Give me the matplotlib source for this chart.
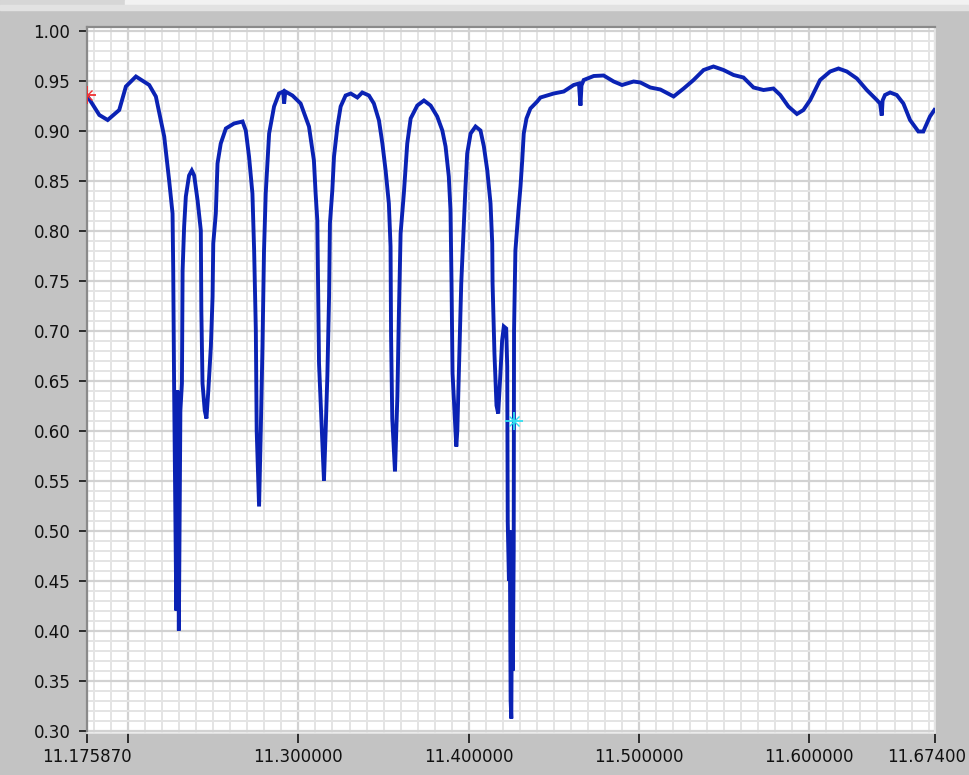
import matplotlib
matplotlib.use("Agg")
import matplotlib.pyplot as plt
from matplotlib.patches import Rectangle
from matplotlib.transforms import ScaledTranslation
from matplotlib.ticker import MultipleLocator, FixedLocator, FixedFormatter, FormatStrFormatter

# spectrum trace (x in um, y = transmission)
wl = [11.17587, 11.1831, 11.1880, 11.1948, 11.1987, 11.2046, 11.2124, 11.2163,
      11.2212, 11.2241, 11.2261, 11.2265, 11.2270, 11.2283, 11.2289, 11.2298,
      11.2307, 11.2316, 11.2320, 11.2329, 11.2339, 11.2358, 11.2374, 11.2388,
      11.2408, 11.2427, 11.2430, 11.2437, 11.2450, 11.2460, 11.2471, 11.2486,
      11.2496, 11.2500, 11.2515, 11.2525, 11.2544, 11.2574, 11.2622, 11.2672,
      11.2691, 11.2710, 11.2730, 11.2740, 11.2750, 11.2755, 11.2769, 11.2779,
      11.2789, 11.2798, 11.2808, 11.2828, 11.2857, 11.2886, 11.2911, 11.2916,
      11.2923, 11.2965, 11.3013, 11.3062, 11.3091, 11.3101, 11.3111, 11.3121,
      11.3141, 11.3150, 11.3160, 11.3170, 11.3180, 11.3185, 11.3199, 11.3209,
      11.3229, 11.3248, 11.3277, 11.3307, 11.3346, 11.3375, 11.3414, 11.3443,
      11.3473, 11.3493, 11.3512, 11.3531, 11.3541, 11.3544, 11.3551, 11.3567,
      11.3581, 11.3590, 11.3600, 11.3619, 11.3639, 11.3659, 11.3698, 11.3737,
      11.3776, 11.3815, 11.3845, 11.3864, 11.3883, 11.3893, 11.3899, 11.3905,
      11.3927, 11.3933, 11.3942, 11.3956, 11.3971, 11.3981, 11.3991, 11.4011,
      11.4040, 11.4069, 11.4089, 11.4109, 11.4128, 11.4138, 11.4140, 11.4151,
      11.4163, 11.4173, 11.4187, 11.4196, 11.4206, 11.4220, 11.4226, 11.4229,
      11.4236, 11.4241, 11.4246, 11.4250, 11.4254, 11.4259, 11.4264, 11.4266,
      11.4274, 11.4292, 11.4304, 11.4314, 11.4323, 11.4339, 11.4362, 11.4402,
      11.4421, 11.4499, 11.4558, 11.4616, 11.4647, 11.4656, 11.4662, 11.4675,
      11.4734, 11.4792, 11.4851, 11.4900, 11.4968, 11.5008, 11.5066, 11.5125,
      11.5203, 11.5262, 11.5320, 11.5379, 11.5437, 11.5496, 11.5555, 11.5613,
      11.5672, 11.5731, 11.5789, 11.5829, 11.5877, 11.5927, 11.5965, 11.6005,
      11.6063, 11.6122, 11.6171, 11.6220, 11.6279, 11.6337, 11.6396, 11.6415,
      11.6425, 11.6430, 11.6444, 11.6474, 11.6513, 11.6552, 11.6591, 11.6640,
      11.6669, 11.6708, 11.6734]
trans = [0.935, 0.9155, 0.9105, 0.9205, 0.944, 0.954, 0.9455, 0.934,
         0.894, 0.850, 0.817, 0.760, 0.647, 0.420, 0.640, 0.400,
         0.620, 0.647, 0.760, 0.804, 0.834, 0.855, 0.860, 0.855,
         0.830, 0.800, 0.720, 0.647, 0.620, 0.612, 0.640, 0.684,
         0.734, 0.787, 0.817, 0.867, 0.887, 0.902, 0.907, 0.909,
         0.900, 0.874, 0.837, 0.780, 0.700, 0.600, 0.524, 0.600,
         0.684, 0.780, 0.837, 0.897, 0.924, 0.937, 0.939, 0.927,
         0.939, 0.935, 0.927, 0.904, 0.870, 0.837, 0.810, 0.667,
         0.586, 0.550, 0.600, 0.655, 0.734, 0.807, 0.840, 0.874,
         0.904, 0.924, 0.935, 0.937, 0.933, 0.938, 0.935, 0.927,
         0.910, 0.887, 0.860, 0.827, 0.784, 0.695, 0.612, 0.559,
         0.634, 0.717, 0.797, 0.837, 0.887, 0.912, 0.925, 0.930,
         0.925, 0.914, 0.900, 0.884, 0.854, 0.820, 0.747, 0.657,
         0.584, 0.600, 0.659, 0.747, 0.804, 0.844, 0.877, 0.897,
         0.904, 0.900, 0.884, 0.860, 0.827, 0.787, 0.747, 0.677,
         0.625, 0.617, 0.660, 0.690, 0.704, 0.702, 0.664, 0.509,
         0.450, 0.500, 0.330, 0.312, 0.440, 0.360, 0.480, 0.700,
         0.780, 0.820, 0.844, 0.870, 0.897, 0.912, 0.922, 0.929,
         0.933, 0.937, 0.939, 0.9455, 0.947, 0.925, 0.945, 0.9505,
         0.9545, 0.955, 0.949, 0.9455, 0.949, 0.948, 0.943, 0.941,
         0.934, 0.942, 0.9505, 0.9605, 0.964, 0.9605, 0.9555, 0.953,
         0.943, 0.9405, 0.942, 0.9355, 0.924, 0.9165, 0.9205, 0.9305,
         0.9505, 0.959, 0.962, 0.959, 0.952, 0.9405, 0.9305, 0.927,
         0.915, 0.930, 0.9355, 0.938, 0.9355, 0.927, 0.9105, 0.899,
         0.899, 0.914, 0.9205]

# cursors
cursor_red = (11.17587, 0.9355)
cursor_cyan = (11.4263, 0.6095)

x_ticks = [11.17587, 11.2, 11.3, 11.4, 11.5, 11.6, 11.674]
x_labels = ["11.175870", "", "11.300000", "11.400000", "11.500000", "11.600000", "11.67400"]

bg = "#C3C3C3"
fig = plt.figure(figsize=(9.7, 7.75), dpi=100, facecolor=bg)

# light strip along the top edge of the panel
fig.patches.append(Rectangle((0, 1 - 5 / 775), 125 / 970, 5 / 775, transform=fig.transFigure,
                             color="#D6D6D6", zorder=0))
fig.patches.append(Rectangle((125 / 970, 1 - 5 / 775), 1, 5 / 775, transform=fig.transFigure,
                             color="#F2F2F2", zorder=0))
fig.patches.append(Rectangle((0, 1 - 10 / 775), 1, 5 / 775, transform=fig.transFigure,
                             color="#E2E2E2", zorder=0))

ax = fig.add_axes([87 / 970, 42 / 775, 848.4 / 970, 706 / 775])
ax.set_facecolor("white")

ax.plot(wl, trans, color="#0A22B4", lw=2.8, solid_joinstyle="miter", zorder=3)

# cursor markers
ax.plot(*cursor_red, marker="+", ms=13, mew=1.3, color="#F03030", zorder=4)
ax.plot(*cursor_red, marker="x", ms=7, mew=1.0, color="#F03030", zorder=4)
ax.plot(*cursor_cyan, marker="+", ms=13, mew=1.3, color="#30E0F0", zorder=4)
ax.plot(*cursor_cyan, marker="x", ms=7, mew=1.0, color="#30E0F0", zorder=4)

ax.set_xlim(11.17587, 11.674)
ax.set_ylim(0.2975, 1.0035)

ax.xaxis.set_major_locator(FixedLocator(x_ticks))
ax.xaxis.set_major_formatter(FixedFormatter(x_labels))
ax.xaxis.set_minor_locator(MultipleLocator(0.01))
ax.set_yticks([0.30 + 0.05 * i for i in range(15)])
ax.yaxis.set_major_formatter(FormatStrFormatter("%.2f"))
ax.yaxis.set_minor_locator(MultipleLocator(0.01))

ax.grid(which="minor", color="#E4E4E4", lw=1.4, zorder=0)
ax.grid(which="major", color="#D2D2D2", lw=1.6, zorder=0)
ax.set_axisbelow(True)

ax.tick_params(which="minor", length=0)
ax.tick_params(axis="x", which="major", length=7, width=1.3, color="#202020",
               pad=4, labelsize=12, labelcolor="#111111")
ax.tick_params(axis="y", which="major", length=6, width=1.3, color="#202020",
               pad=6, labelsize=12, labelcolor="#111111")

# last x label sits against the right edge of the panel
last = ax.get_xticklabels()[-1]
last.set_transform(last.get_transform() + ScaledTranslation(-6 / 72, 0, fig.dpi_scale_trans))

for side in ["left", "top"]:
    ax.spines[side].set_color("#8A8A8A")
    ax.spines[side].set_linewidth(1.6)
for side in ["right", "bottom"]:
    ax.spines[side].set_color("#E8E8E8")
    ax.spines[side].set_linewidth(1.2)

fig.savefig("out.png", dpi=100, facecolor=bg)
